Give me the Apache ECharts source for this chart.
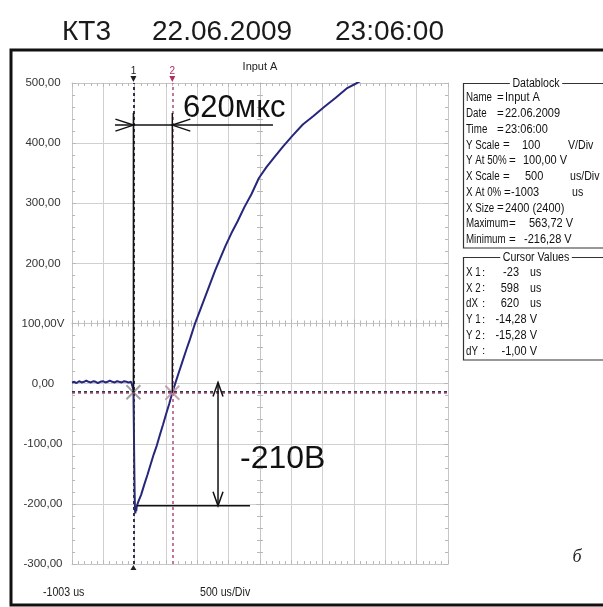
<!DOCTYPE html>
<html>
<head>
<meta charset="utf-8">
<script src="https://cdn.jsdelivr.net/npm/echarts@6/dist/echarts.min.js"></script>
<style>
html, body { margin: 0; padding: 0; background: #fff; }
#chart { width: 603px; height: 607px; }
</style>
</head>
<body>
<div id="chart"></div>
<script>
// scope trace: time in us, voltage in V
var traceTime = [-1003, -965, -930, -890, -850, -810, -775, -740, -700, -660, -625, -590, -550, -510, -470, -435,
	-400, -360, -320, -285, -250, -210, -170, -135, -100, -60, -30, -23, -16, -10, -4, 2, 8, 14, 22, 30,
	60, 100, 150, 200, 250, 300, 350, 400, 450, 500, 550, 598, 650, 700, 760, 820, 880, 960, 1040, 1120,
	1200, 1280, 1360, 1450, 1540, 1640, 1750, 1860, 1980, 2100, 2230, 2370, 2520, 2680, 2850, 3020, 3200,
	3380, 3545, 3750, 4000, 4300, 4650, 4997];
var traceVolt = [2, 3, 1, 4, 2, 3, 5, 3, 2, 4, 3, 1, 3, 4, 2, 3,
	5, 3, 2, 4, 3, 2, 4, 3, 2, 3, 0, -10, -70, -130, -180, -210, -216, -205, -212, -204,
	-195, -185, -168, -152, -135, -118, -103, -85, -68, -50, -33, -15, 2, 18, 37, 56, 74, 100, 122, 144,
	166, 188, 208, 230, 250, 270, 294, 315, 342, 360, 377, 395, 413, 431, 445, 460, 475,
	491, 500, 512, 526, 540, 553, 563];

var cursorX = [-23, 598];
var cursorY = [-14.28, -15.28];
var cursorNames = ['1', '2'];

var X_AT_0 = -1003;
var X_DIV = 500;
var X_SPAN = 6000;
var Y_MIN = -300;
var Y_MAX = 500;
var Y_DIV = 100;

var titleParts = ['КТ3', '22.06.2009', '23:06:00'];
var dbNames = ['Name', 'Date', 'Time', 'Y Scale', 'Y At 50%', 'X Scale', 'X At 0%', 'X Size', 'Maximum', 'Minimum'];
var dbValues = ['Input A', '22.06.2009', '23:06:00', '100', '100,00 V', '500', '-1003', '2400 (2400)', '563,72 V', '-216,28 V'];
var dbUnits = ['', '', '', 'V/Div', '', 'us/Div', 'us', '', '', ''];
var cvNames = ['X 1', 'X 2', 'dX', 'Y 1', 'Y 2', 'dY'];
var cvValues = ['-23', '598', '620', '-14,28 V', '-15,28 V', '-1,00 V'];
var cvUnits = ['us', 'us', 'us', '', '', ''];
var footLabels = ['-1003 us', '500 us/Div'];

// hand-drawn dimension marks on the print-out (us / V)
var dimTimeText = '620мкс';
var dimVoltText = '-210В';
var markTop = 450;
var dimTimeLevel = 430;
var dimTimeSpan = [-317, 2204];
var dimVoltX = 1327;
var dimVoltSpan = [2, -203];
var baseLevel = -203;
var baseSpan = [34, 1837];
var dimTimeTextPos = [770, 457];
var dimVoltTextPos = [1678, -126];

var sx = function (t) { return t - X_AT_0; };

var traceData = traceTime.map(function (t, i) { return [sx(t), traceVolt[i]]; });

var tickGray = '#b8b8b8';
function axisBase(min, max, position, interval, inside, onZeroIndex) {
	return {
		type: 'value', min: min, max: max, interval: interval, position: position,
		axisLine: onZeroIndex == null
			? { onZero: false, lineStyle: { color: '#c6c6c6' } }
			: { onZero: true, onZeroAxisIndex: onZeroIndex, lineStyle: { color: '#c6c6c6' } },
		axisTick: { show: true, inside: inside, length: 4, lineStyle: { color: tickGray } },
		minorTick: { show: true, splitNumber: 5, length: 3, lineStyle: { color: tickGray } },
		axisLabel: { show: false },
		splitLine: { show: false }
	};
}

var xAxes = [
	axisBase(0, X_SPAN, 'bottom', X_DIV, true),
	axisBase(0, X_SPAN, 'top', X_DIV, true),
	axisBase(-X_SPAN / 2, X_SPAN / 2, 'bottom', X_DIV, true, 1),
	axisBase(-X_SPAN / 2, X_SPAN / 2, 'bottom', X_DIV, false, 1)
];
xAxes[0].splitLine = { show: true, lineStyle: { color: '#d0d0d0' } };

var halfY = (Y_MAX - Y_MIN) / 2;
var yAxes = [
	axisBase(Y_MIN, Y_MAX, 'left', Y_DIV, true),
	axisBase(-halfY, halfY, 'left', Y_DIV, true, 2),
	axisBase(-halfY, halfY, 'left', Y_DIV, false, 2),
	axisBase(Y_MIN, Y_MAX, 'right', Y_DIV, true)
];
yAxes[0].splitLine = { show: true, lineStyle: { color: '#d0d0d0' } };
yAxes[0].axisLabel = {
	show: true, align: 'center', margin: 29, color: '#333',
	fontFamily: 'Liberation Sans', fontSize: 11.5,
	formatter: function (v) {
		var s = v.toFixed(2).replace('.', ',');
		return v === 100 ? s + 'V' : s;
	}
};

var dotted = [3, 3];
var option = {
	animation: false,
	grid: { left: 72, right: 155, top: 83, bottom: 43 },
	xAxis: xAxes,
	yAxis: yAxes,
	series: [{
		type: 'line',
		xAxisIndex: 0,
		yAxisIndex: 0,
		data: traceData,
		showSymbol: false,
		symbol: 'none',
		z: 3,
		lineStyle: { color: '#26267c', width: 2 },
		markLine: {
			silent: true,
			symbol: 'none',
			label: { show: false },
			data: [
				{ xAxis: sx(cursorX[0]), lineStyle: { color: '#30304a', type: dotted, width: 2 } },
				{ xAxis: sx(cursorX[1]), lineStyle: { color: '#c07898', type: dotted, width: 2 } },
				{ yAxis: cursorY[0], lineStyle: { color: '#3a3050', type: dotted, width: 2 } },
				{ yAxis: cursorY[1], lineStyle: { color: '#a05878', type: dotted, width: 1.5 } }
			]
		}
	}, {
		type: 'scatter',
		xAxisIndex: 0,
		yAxisIndex: 0,
		symbol: 'path://M0,0L10,10M10,0L0,10',
		symbolSize: 14,
		z: 4,
		data: [
			{ value: [sx(cursorX[0]), cursorY[0]], itemStyle: { color: 'transparent', borderColor: '#8c8c8c', borderWidth: 2 } },
			{ value: [sx(cursorX[1]), cursorY[1]], itemStyle: { color: 'transparent', borderColor: '#b890a0', borderWidth: 2 } }
		]
	}]
};

var chart = echarts.init(document.getElementById('chart'));
chart.setOption(option);

// second pass: print-out decorations placed through the chart's own scales
var px = function (t, v) {
	return chart.convertToPixel({ xAxisIndex: 0, yAxisIndex: 0 }, [sx(t), v]);
};
var g = [];
function line(points, color, width) {
	g.push({ type: 'polyline', silent: true, z: 100, shape: { points: points },
		style: { stroke: color || '#111', lineWidth: width || 1.5, fill: 'none' } });
}
function poly(points, color) {
	g.push({ type: 'polygon', silent: true, z: 100, shape: { points: points }, style: { fill: color } });
}
function text(str, x, y, font, color, align, bg, squeeze) {
	var st = { text: str, font: font, fill: color || '#111', align: align || 'left', textAlign: align || 'left',
		verticalAlign: 'middle', textVerticalAlign: 'middle' };
	if (bg) { st.backgroundColor = bg; st.padding = [0, 3]; }
	var el = { type: 'text', silent: true, z: 101, x: x, y: y, style: st };
	if (squeeze) { el.scaleX = squeeze; }
	g.push(el);
}
function chevron(tip, dx, dy, len, wid) {
	var bx = tip[0] - dx * len, by = tip[1] - dy * len;
	line([[bx - dy * wid, by + dx * wid], tip, [bx + dy * wid, by - dx * wid]]);
}

// outer frame and title
g.push({ type: 'rect', silent: true, z: 100, shape: { x: 11, y: 50, width: 700, height: 555 },
	style: { fill: 'none', stroke: '#111', lineWidth: 3 } });
var titleX = [62, 152, 335];
titleParts.forEach(function (s, i) { text(s, titleX[i], 32, '28px "Liberation Sans", Arial, sans-serif', '#1a1a1a'); });

// channel name and cursor flags
var topMid = px(X_AT_0 + X_SPAN / 2, Y_MAX);
text('Input A', topMid[0], topMid[1] - 16, '11px "Liberation Sans", sans-serif', '#222', 'center');
var flagColors = ['#222', '#b03060'];
cursorX.forEach(function (x, i) {
	var p = px(x, Y_MAX);
	text(cursorNames[i], p[0], p[1] - 12, '10px "Liberation Sans", sans-serif', flagColors[i], 'center');
	poly([[p[0] - 3, p[1] - 7], [p[0] + 3, p[1] - 7], [p[0], p[1] - 1]], flagColors[i]);
});
var c1b = px(cursorX[0], Y_MIN);
poly([[c1b[0] - 3, c1b[1] + 6], [c1b[0] + 3, c1b[1] + 6], [c1b[0], c1b[1] + 1]], '#222');

// dimension marks
line([px(cursorX[0], markTop), px(cursorX[0], cursorY[0])]);
line([px(cursorX[1], markTop), px(cursorX[1], cursorY[1])]);
line([px(dimTimeSpan[0], dimTimeLevel), px(dimTimeSpan[1], dimTimeLevel)]);
chevron(px(cursorX[0], dimTimeLevel), 1, 0, 18, 6);
chevron(px(cursorX[1], dimTimeLevel), -1, 0, 18, 6);
var vT = px(dimVoltX, dimVoltSpan[0]), vB = px(dimVoltX, dimVoltSpan[1]);
line([vT, vB]);
chevron(vT, 0, -1, 14, 5);
chevron(vB, 0, 1, 14, 5);
line([px(baseSpan[0], baseLevel), px(baseSpan[1], baseLevel)]);
var tp = px(dimTimeTextPos[0], dimTimeTextPos[1]);
text(dimTimeText, tp[0], tp[1], '31px "Liberation Sans", Arial, sans-serif', '#111');
var vp = px(dimVoltTextPos[0], dimVoltTextPos[1]);
text(dimVoltText, vp[0], vp[1], '32px "Liberation Sans", Arial, sans-serif', '#111');

// data block panels
var small = '11.5px "Liberation Sans", Arial, sans-serif';
var tall = '12.5px "Liberation Sans", Arial, sans-serif';
var rowH = 15.75;
g.push({ type: 'rect', silent: true, z: 100, shape: { x: 463.5, y: 83.5, width: 300, height: 164.5 },
	style: { fill: 'none', stroke: '#333', lineWidth: 1.2 } });
g.push({ type: 'rect', silent: true, z: 100, shape: { x: 463.5, y: 257.5, width: 300, height: 102.5 },
	style: { fill: 'none', stroke: '#333', lineWidth: 1.2 } });
text('Datablock', 536, 83.5, tall, '#111', 'center', '#fff', 0.85);
text('Cursor Values', 536, 257.5, tall, '#111', 'center', '#fff', 0.85);
var eqX = [497, 497, 497, 503, 509, 503, 504, 497, 509, 509];
var valX = [505, 505, 505, 522, 523, 525, 511, 505, 529, 524];
var unitX = [0, 0, 0, 568, 0, 570, 572, 0, 0, 0];
dbNames.forEach(function (n, i) {
	var y = 98 + i * rowH;
	text(n, 466, y, tall, '#111', 'left', null, 0.78);
	text('=', eqX[i], y, small);
	text(dbValues[i], valX[i], y, tall, '#111', 'left', null, 0.88);
	if (dbUnits[i]) { text(dbUnits[i], unitX[i], y, tall, '#111', 'left', null, 0.85); }
});
cvNames.forEach(function (n, i) {
	var y = 272.5 + i * rowH;
	text(n, 466, y, tall, '#111', 'left', null, 0.78);
	text(':', 482, y, small);
	if (cvUnits[i]) {
		text(cvValues[i], 519, y, tall, '#111', 'right', null, 0.88);
		text(cvUnits[i], 530, y, tall, '#111', 'left', null, 0.85);
	} else {
		text(cvValues[i], 537, y, tall, '#111', 'right', null, 0.88);
	}
});

// footer
text(footLabels[0], 43, 593, tall, '#222', 'left', null, 0.85);
text(footLabels[1], 200, 593, tall, '#222', 'left', null, 0.85);
text('б', 577, 557, 'italic 18px "Liberation Serif", "DejaVu Serif", serif', '#222', 'center');

chart.setOption({ graphic: { elements: g } });
</script>
</body>
</html>
